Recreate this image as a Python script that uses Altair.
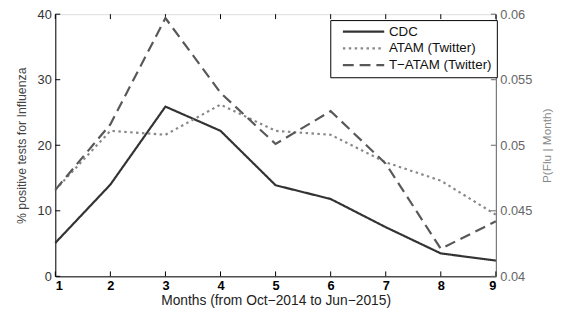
import altair as alt
import pandas as pd

months = [1, 2, 3, 4, 5, 6, 7, 8, 9]
cdc = [5.1, 14.0, 25.9, 22.2, 13.9, 11.8, 7.5, 3.5, 2.4]
atam = [0.0466, 0.0511, 0.0508, 0.0531, 0.0511, 0.0508, 0.0487, 0.0473, 0.0447]
tatam = [0.0466, 0.0516, 0.0597, 0.0540, 0.0501, 0.0526, 0.0486, 0.0421, 0.0442]
series_names = ["CDC", "ATAM (Twitter)", "T\u2212ATAM (Twitter)"]
left_ticks = [0, 10, 20, 30, 40]
right_ticks = [0.04, 0.045, 0.05, 0.055, 0.06]

W, H = 447, 266
FONT = "Liberation Sans"

rows = []
for name, vals in zip(series_names, [cdc, atam, tatam]):
    for m, v in zip(months, vals):
        rows.append({"month": m, "series": name, "value": v})
df = pd.DataFrame(rows)

xscale = alt.Scale(domain=[1, 9], nice=False, zero=False)
color_scale = alt.Scale(domain=series_names, range=["#333333", "#888888", "#585858"])
dash_scale = alt.Scale(domain=series_names, range=[[1, 0], [2.5, 3.5], [11, 6]])

legend = alt.Legend(
    title=None, orient="none", legendX=279, legendY=6,
    symbolType="M-4,0H4", symbolSize=110, symbolStrokeWidth=2.2,
    labelFontSize=13.5, labelFont=FONT, labelColor="#111111", labelOffset=19,
    strokeColor="black", fillColor="white", padding=5, rowPadding=2,
    symbolOffset=22,
)

xaxis = alt.Axis(
    values=months, format="d", tickSize=0, labelFontWeight="bold", labelFontSize=13,
    labelColor="#000000", labelFont=FONT, labelPadding=3, grid=False,
    domainColor="#000000", title="Months (from Oct\u22122014 to Jun\u22122015)",
    titleFontSize=14, titleFont=FONT, titleFontWeight="normal",
    titleColor="#222222", titlePadding=2,
)

base = alt.Chart(df).encode(
    x=alt.X("month:Q", scale=xscale, axis=xaxis),
)

left_line = base.transform_filter(alt.datum.series == series_names[0]).mark_line(
    strokeWidth=2.2
).encode(
    y=alt.Y("value:Q", scale=alt.Scale(domain=[0, 40], nice=False),
            axis=alt.Axis(values=left_ticks, format="d", tickSize=0, labelFontSize=13,
                          labelFont=FONT, labelColor="#333333", labelPadding=4,
                          domainColor="#000000", grid=False,
                          title="% positive tests for Influenza",
                          titleFontSize=12.5, titleFont=FONT,
                          titleFontWeight="normal", titleColor="#444444",
                          titlePadding=9)),
    color=alt.Color("series:N", scale=color_scale, legend=legend),
    strokeDash=alt.StrokeDash("series:N", scale=dash_scale, legend=legend),
)

lt_df = pd.DataFrame({"value": left_ticks})
left_tk = alt.Chart(lt_df).mark_rule(color="#000000", strokeWidth=1).encode(
    y=alt.Y("value:Q"), x=alt.value(0), x2=alt.value(5)
)

xt_df = pd.DataFrame({"month": months})
x_tk_bottom = alt.Chart(xt_df).mark_rule(color="#000000", strokeWidth=1).encode(
    x=alt.X("month:Q", scale=xscale), y=alt.value(H), y2=alt.value(H - 5)
)
x_tk_top = alt.Chart(xt_df).mark_rule(color="#000000", strokeWidth=1).encode(
    x=alt.X("month:Q", scale=xscale), y=alt.value(0), y2=alt.value(5)
)

left = alt.layer(left_line, left_tk, x_tk_bottom, x_tk_top)

right_lines = base.transform_filter(alt.datum.series != series_names[0]).mark_line(
    strokeWidth=2.2
).encode(
    y=alt.Y("value:Q", scale=alt.Scale(domain=[0.04, 0.06], nice=False, zero=False),
            axis=alt.Axis(orient="right", values=right_ticks, format="~g", tickSize=0,
                          labelFontSize=13, labelFont=FONT, labelColor="#666666",
                          labelPadding=4, domainColor="#666666", grid=False,
                          title="P(Flu | Month)", titleFontSize=12, titleAngle=270,
                          titleBaseline="bottom",
                          titleFont=FONT, titleFontWeight="normal",
                          titleColor="#888888", titlePadding=22)),
    color=alt.Color("series:N", scale=color_scale, legend=legend),
    strokeDash=alt.StrokeDash("series:N", scale=dash_scale, legend=legend),
)

rt_df = pd.DataFrame({"value": right_ticks})
right_tk = alt.Chart(rt_df).mark_rule(color="#666666", strokeWidth=1).encode(
    y=alt.Y("value:Q"), x=alt.value(W - 5), x2=alt.value(W)
)

right = alt.layer(right_lines, right_tk)

chart = alt.layer(left, right).resolve_scale(y="independent").properties(
    width=W, height=H,
    autosize=alt.AutoSizeParams(type="none"),
    padding={"left": 48, "top": 4, "right": 60, "bottom": 40},
).configure_view(stroke="#000000", strokeWidth=1).configure(background="white")

chart.save("out.html", embed_options={"renderer": "svg", "actions": False})
